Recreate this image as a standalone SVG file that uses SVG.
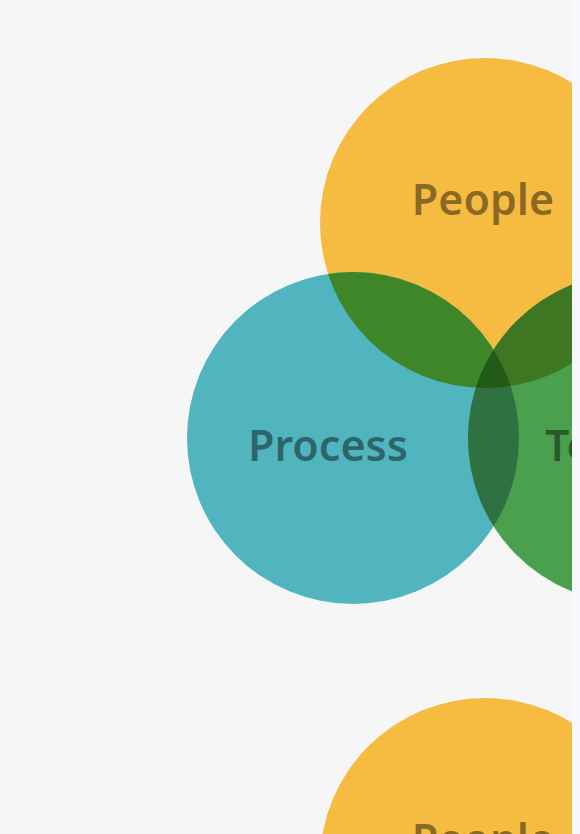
<svg xmlns="http://www.w3.org/2000/svg" width="580" height="834" viewBox="0 0 580 834">
  <style>
    .label { font-family: "Noto Sans", "Open Sans", sans-serif; font-size: 43px; font-weight: 600; fill: #000; fill-opacity: 0.45; }
    .people { fill: #f6bb41; }
    .process { fill: #50b5be; }
    .tech { fill: #4aa04d; }
    .pp { fill: #3e8627; }
    .pt { fill: #3e7622; }
    .prt { fill: #2f7140; }
    .all { fill: #235a17; }
  </style>
  <defs>
    <clipPath id="clipPeople"><circle cx="485" cy="223" r="165"/></clipPath>
    <clipPath id="clipProcess"><circle cx="353" cy="438" r="166"/></clipPath>
  </defs>

  <rect width="580" height="834" fill="#f6f6f6"/>

  <!-- first Venn set -->
  <g id="people">
    <circle class="people" cx="485" cy="223" r="165"/>
  </g>
  <g id="process">
    <circle class="process" cx="353" cy="438" r="166"/>
  </g>
  <g id="technology">
    <circle class="tech" cx="633" cy="438" r="165"/>
  </g>
  <g id="overlaps">
    <g clip-path="url(#clipPeople)">
      <circle class="pp" cx="353" cy="438" r="166"/>
      <circle class="pt" cx="633" cy="438" r="165"/>
    </g>
    <g clip-path="url(#clipProcess)">
      <circle class="prt" cx="633" cy="438" r="165"/>
    </g>
    <g clip-path="url(#clipPeople)">
      <g clip-path="url(#clipProcess)">
        <circle class="all" cx="633" cy="438" r="165"/>
      </g>
    </g>
  </g>
  <g id="labels">
    <text class="label" x="483" y="215" text-anchor="middle">People</text>
    <text class="label" x="328" y="461" text-anchor="middle">Process</text>
    <text class="label" x="545" y="461">Technology</text>
  </g>

  <!-- second Venn set, starting below -->
  <g id="people-2">
    <circle class="people" cx="485" cy="863" r="165"/>
    <text class="label" x="483" y="855" text-anchor="middle">People</text>
  </g>

  <g id="connectors"/>

  <!-- side edges -->
  <rect x="572" y="0" width="8" height="834" fill="#f7f8fb"/>
  <rect x="0" y="0" width="2" height="834" fill="#f7f8fb"/>
</svg>
